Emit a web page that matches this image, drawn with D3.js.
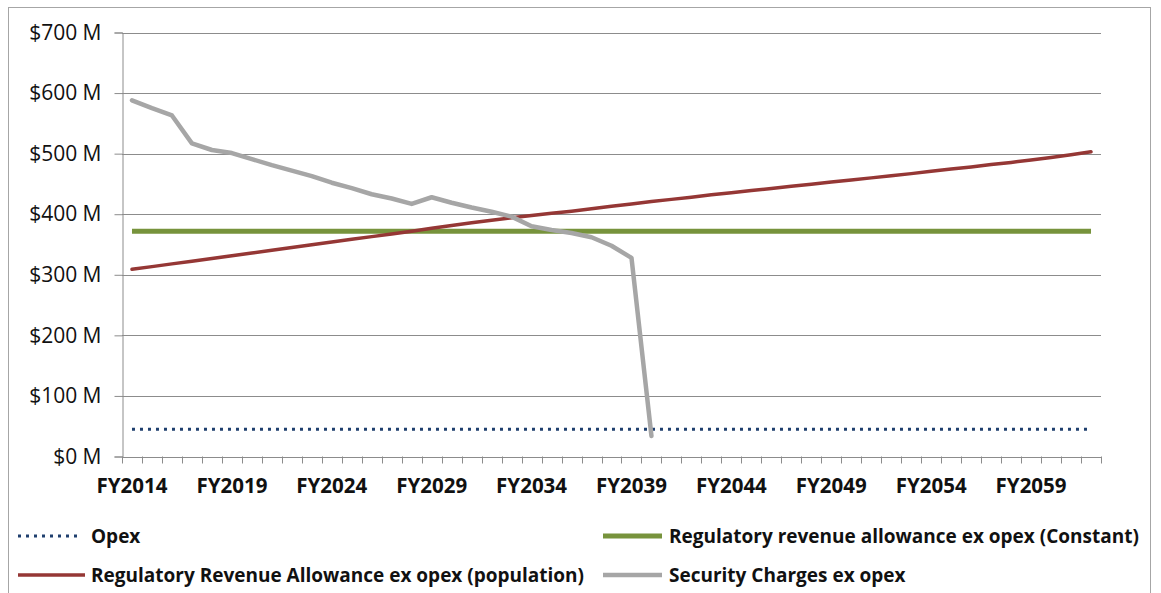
<!DOCTYPE html>
<html>
<head>
<meta charset="utf-8">
<script src="https://cdn.jsdelivr.net/npm/d3@7"></script>
<style>
  html, body { margin: 0; padding: 0; background: #ffffff; }
  svg { display: block; }
</style>
</head>
<body>
<svg id="chart" width="1161" height="593"></svg>
<script>
// Financial years on the category axis
const categories = [
  "FY2014","FY2015","FY2016","FY2017","FY2018","FY2019","FY2020","FY2021","FY2022","FY2023",
  "FY2024","FY2025","FY2026","FY2027","FY2028","FY2029","FY2030","FY2031","FY2032","FY2033",
  "FY2034","FY2035","FY2036","FY2037","FY2038","FY2039","FY2040","FY2041","FY2042","FY2043",
  "FY2044","FY2045","FY2046","FY2047","FY2048","FY2049","FY2050","FY2051","FY2052","FY2053",
  "FY2054","FY2055","FY2056","FY2057","FY2058","FY2059","FY2060","FY2061","FY2062"
];
const xTickLabels = ["FY2014","FY2019","FY2024","FY2029","FY2034","FY2039","FY2044","FY2049","FY2054","FY2059"];
const yTickValues = [0, 100, 200, 300, 400, 500, 600, 700];

// Series values, $ millions
const opex = [
  45,45,45,45,45,45,45,45,45,45,45,45,45,45,45,45,45,45,45,45,45,45,45,45,45,
  45,45,45,45,45,45,45,45,45,45,45,45,45,45,45,45,45,45,45,45,45,45,45,45
];
const allowanceConstant = [
  372,372,372,372,372,372,372,372,372,372,372,372,372,372,372,372,372,372,372,372,372,372,372,372,372,
  372,372,372,372,372,372,372,372,372,372,372,372,372,372,372,372,372,372,372,372,372,372,372,372
];
const allowancePopulation = [
  309,313.5,318,322.5,327,331.5,336,340.5,345,349.5,354,358.5,363,367.5,372,377,381.5,386,390,394,
  398,401.5,405,409,413,417,421,424.5,428,432,435.5,439,442.5,446,449.5,453,456.5,460,463.5,467,
  471,474.5,478,482,485.5,489.5,493.5,498,503
];
const securityCharges = [
  588,575,563,517,506,501,491,481,472,463,452,443,433,426,417,428,419,411,404,396,
  380,374,369,362,348,328,34
];

const seriesNames = [
  "Opex",
  "Regulatory revenue allowance ex opex (Constant)",
  "Regulatory Revenue Allowance ex opex (population)",
  "Security Charges ex opex"
];

const svg = d3.select("#chart");
const plot = { left: 122, right: 1101, top: 32.5, bottom: 456.5 };

// Outer chart frame
svg.append("rect")
  .attr("x", 8.5).attr("y", 7.5)
  .attr("width", 1142).attr("height", 600)
  .attr("fill", "none").attr("stroke", "#a6a6a6").attr("stroke-width", 1);

const x = d3.scaleBand().domain(categories).range([plot.left, plot.right]).paddingInner(0).paddingOuter(0);
const xc = c => x(c) + x.bandwidth() / 2;
const y = d3.scaleLinear().domain([0, 700]).range([plot.bottom, plot.top]);

const gridColor = "#8c8c8c";
const textColor = "#111111";

// Horizontal gridlines
svg.append("g").selectAll("line")
  .data(yTickValues)
  .join("line")
  .attr("x1", plot.left).attr("x2", plot.right)
  .attr("y1", d => Math.round(y(d)) + 0.5).attr("y2", d => Math.round(y(d)) + 0.5)
  .attr("stroke", gridColor).attr("stroke-width", 1);

// Y axis with dollar labels
const yAxis = svg.append("g")
  .attr("transform", `translate(${plot.left + 0.5},0)`)
  .call(d3.axisLeft(y).tickValues(yTickValues).tickSize(8).tickPadding(13)
    .tickFormat(d => `$${d} M`));
yAxis.select(".domain").attr("stroke", gridColor);
yAxis.selectAll(".tick line").attr("stroke", gridColor);
yAxis.selectAll(".tick text")
  .attr("font-family", "'Open Sans', sans-serif")
  .attr("font-size", 21)
  .attr("fill", textColor);

// X axis: category boundary tick marks
const boundaries = categories.map(c => x(c)).concat([plot.right]);
svg.append("g").selectAll("line")
  .data(boundaries)
  .join("line")
  .attr("x1", d => Math.round(d) + 0.5).attr("x2", d => Math.round(d) + 0.5)
  .attr("y1", plot.bottom).attr("y2", plot.bottom + 7)
  .attr("stroke", gridColor).attr("stroke-width", 1);

const xAxis = svg.append("g")
  .attr("transform", `translate(0,${plot.bottom})`)
  .call(d3.axisBottom(x).tickValues(xTickLabels).tickSize(0).tickPadding(22));
xAxis.select(".domain").remove();
xAxis.selectAll(".tick text")
  .attr("font-family", "'Open Sans', sans-serif")
  .attr("font-weight", "bold")
  .attr("font-size", 20.5)
  .attr("fill", textColor);

// Series lines
const line = d3.line()
  .defined(d => d.v != null)
  .x(d => xc(d.c))
  .y(d => y(d.v));
const toPoints = arr => categories.map((c, i) => ({ c, v: i < arr.length ? arr[i] : null }));

const styles = [
  { data: opex, color: "#1f3f6e", width: 3, dash: "3 5", cap: "butt" },
  { data: allowanceConstant, color: "#77933c", width: 5, dash: null, cap: "butt" },
  { data: allowancePopulation, color: "#953735", width: 3.5, dash: null, cap: "round" },
  { data: securityCharges, color: "#a6a6a6", width: 4.5, dash: null, cap: "round" }
];

styles.forEach(s => {
  svg.append("path")
    .datum(toPoints(s.data))
    .attr("d", line)
    .attr("fill", "none")
    .attr("stroke", s.color)
    .attr("stroke-width", s.width)
    .attr("stroke-linejoin", "round")
    .attr("stroke-linecap", s.cap)
    .attr("stroke-dasharray", s.dash);
});

// Legend (two columns, two rows)
const legendSlots = [
  { k: 0, x1: 18, x2: 82, tx: 91, ty: 536 },
  { k: 1, x1: 603, x2: 662, tx: 669, ty: 536 },
  { k: 2, x1: 18, x2: 85, tx: 91, ty: 575 },
  { k: 3, x1: 603, x2: 662, tx: 669, ty: 575 }
];
const legend = svg.append("g");
legendSlots.forEach(slot => {
  const s = styles[slot.k];
  legend.append("line")
    .attr("x1", slot.x1).attr("x2", slot.x2)
    .attr("y1", slot.ty).attr("y2", slot.ty)
    .attr("stroke", s.color)
    .attr("stroke-width", s.width)
    .attr("stroke-dasharray", s.dash);
  legend.append("text")
    .attr("x", slot.tx).attr("y", slot.ty)
    .attr("dy", "0.35em")
    .attr("font-family", "'Open Sans', sans-serif")
    .attr("font-weight", "bold")
    .attr("font-size", 19)
    .attr("fill", textColor)
    .text(seriesNames[slot.k]);
});
</script>
</body>
</html>
